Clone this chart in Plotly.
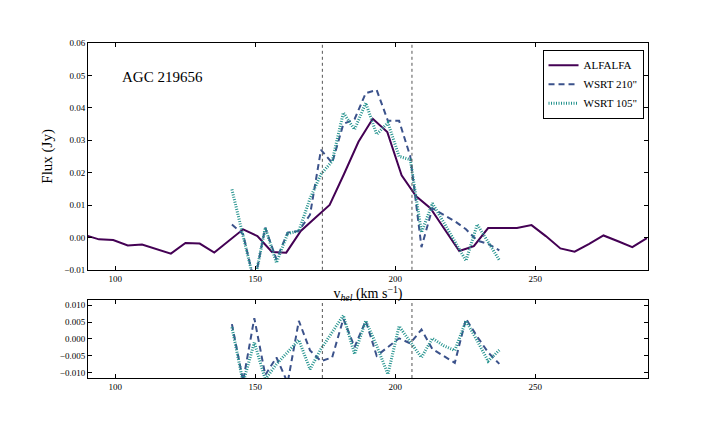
import plotly.graph_objects as go
from plotly.subplots import make_subplots

# ALFALFA spectrum
alfalfa_vel = [89.0, 94.2, 99.3, 104.5, 109.6, 114.8, 119.9, 125.1, 130.2, 135.4,
               140.5, 145.7, 150.8, 156.0, 161.1, 166.3, 171.4, 176.6, 181.7, 186.9,
               192.0, 197.2, 202.3, 207.5, 212.6, 217.8, 222.9, 228.1, 233.2, 238.4,
               243.5, 248.7, 253.8, 259.0, 264.1, 269.3, 274.4, 279.6, 284.7, 289.9]
alfalfa_flux = [0.0008, -0.0006, -0.0008, -0.0025, -0.0022, -0.0035, -0.0050, -0.0017, -0.0019, -0.0047,
                -0.0012, 0.0025, 0.0004, -0.0045, -0.0047, 0.0020, 0.0060, 0.0100, 0.0195, 0.0295,
                0.0366, 0.0325, 0.0192, 0.0127, 0.0090, 0.0025, -0.0042, -0.0027, 0.0029, 0.0029,
                0.0029, 0.0038, 0.0004, -0.0034, -0.0044, -0.0020, 0.0006, -0.0012, -0.0030, -0.0002]

# WSRT spectra (same channels for both beams)
wsrt_vel = [141.7, 145.7, 149.7, 153.6, 157.6, 161.6, 165.6, 169.6, 173.5, 177.5,
            181.5, 185.5, 189.5, 193.4, 197.4, 201.4, 205.4, 209.4, 213.3, 217.3,
            221.3, 225.3, 229.3, 233.2, 237.2]
wsrt210_flux = [0.0040, 0.0010, -0.0140, 0.0030, -0.0068, 0.0015, 0.0020, 0.0070, 0.0270, 0.0230,
                0.0350, 0.0365, 0.0445, 0.0455, 0.0360, 0.0360, 0.0250, -0.0030, 0.0090, 0.0070,
                0.0050, 0.0025, -0.0010, -0.0020, -0.0040]
wsrt105_flux = [0.0148, 0.0000, -0.0140, 0.0030, -0.0078, 0.0012, 0.0020, 0.0120, 0.0195, 0.0235,
                0.0385, 0.0333, 0.0415, 0.0318, 0.0354, 0.0250, 0.0240, 0.0015, 0.0105, 0.0047,
                -0.0012, -0.0072, 0.0040, -0.0015, -0.0070]

# residuals shown in the lower panel
wsrt210_resid = [0.0044, -0.0125, 0.0062, -0.0107, -0.0055, -0.0130, 0.0054, -0.0034, -0.0066, -0.0055,
                 0.0060, -0.0024, 0.0054, -0.0050, -0.0024, 0.0002, -0.0013, 0.0028, -0.0030, -0.0050,
                 -0.0071, 0.0060, 0.0007, -0.0040, -0.0074]
wsrt105_resid = [0.0035, -0.0130, -0.0010, -0.0120, -0.0075, -0.0040, -0.0003, -0.0090, -0.0030, 0.0020,
                 0.0070, -0.0045, 0.0054, -0.0020, -0.0105, 0.0038, -0.0010, -0.0055, 0.0002, -0.0020,
                 -0.0034, 0.0054, -0.0005, -0.0066, -0.0033]

# velocity window limits (dotted lines)
window = [174.0, 206.0]

FONT = "Liberation Serif"
c_alfa = "#440154"
c_210 = "#3b528b"
c_105 = "#21918c"

fig = make_subplots(rows=2, cols=1, row_heights=[0.744, 0.256], vertical_spacing=0.09)

fig.add_trace(go.Scatter(x=alfalfa_vel, y=alfalfa_flux, mode="lines", name="ALFALFA",
                         line=dict(color=c_alfa, width=2)), row=1, col=1)
fig.add_trace(go.Scatter(x=wsrt_vel, y=wsrt210_flux, mode="lines", name="WSRT 210\"",
                         line=dict(color=c_210, width=2, dash="6px,4px")), row=1, col=1)
fig.add_trace(go.Scatter(x=wsrt_vel, y=wsrt105_flux, mode="lines", name="WSRT 105\"",
                         line=dict(color=c_105, width=3, dash="1px,1.5px")), row=1, col=1)

fig.add_trace(go.Scatter(x=wsrt_vel, y=wsrt210_resid, mode="lines", showlegend=False,
                         line=dict(color=c_210, width=2, dash="6px,4px")), row=2, col=1)
fig.add_trace(go.Scatter(x=wsrt_vel, y=wsrt105_resid, mode="lines", showlegend=False,
                         line=dict(color=c_105, width=3, dash="1px,1.5px")), row=2, col=1)

for v in window:
    for r in (1, 2):
        fig.add_vline(x=v, line=dict(color="#555555", width=1, dash="dot"), row=r, col=1)

axis_style = dict(showline=True, linecolor="black", linewidth=1, mirror="allticks",
                  ticks="inside", ticklen=4, tickcolor="black", showgrid=False, zeroline=False,
                  tickfont=dict(family=FONT, size=9, color="black"))

fig.update_xaxes(range=[90.3, 290.3], tick0=100, dtick=50, **axis_style)
fig.update_xaxes(title=dict(text="v<sub><i>hel</i></sub> (km s<sup>−1</sup>)", standoff=0,
                            font=dict(family=FONT, size=14, color="black")), row=1, col=1)
fig.update_yaxes(range=[-0.01, 0.06], dtick=0.01, tickformat=".2f", **axis_style)
fig.update_yaxes(title=dict(text="Flux (Jy)", standoff=8,
                            font=dict(family=FONT, size=15, color="black")), row=1, col=1)
fig.update_yaxes(range=[-0.0116, 0.0116], dtick=0.005, tickformat=".3f", row=2, col=1)

fig.add_annotation(text="AGC 219656", xref="x domain", yref="y domain", x=0.057, y=0.85,
                   xanchor="left", yanchor="middle", showarrow=False,
                   font=dict(family=FONT, size=15, color="black"))

# the page body adds an 8px offset, so the margins are shifted to compensate
fig.update_layout(
    width=720, height=432,
    margin=dict(l=80, r=80, t=35, b=62),
    plot_bgcolor="white", paper_bgcolor="white",
    font=dict(family=FONT, color="black"),
    legend=dict(x=0.992, y=0.98, xanchor="right", yanchor="top",
                bordercolor="black", borderwidth=1, bgcolor="white",
                font=dict(family=FONT, size=11, color="black"),
                tracegroupgap=0, itemwidth=30),
)

fig.write_html("out.html")
